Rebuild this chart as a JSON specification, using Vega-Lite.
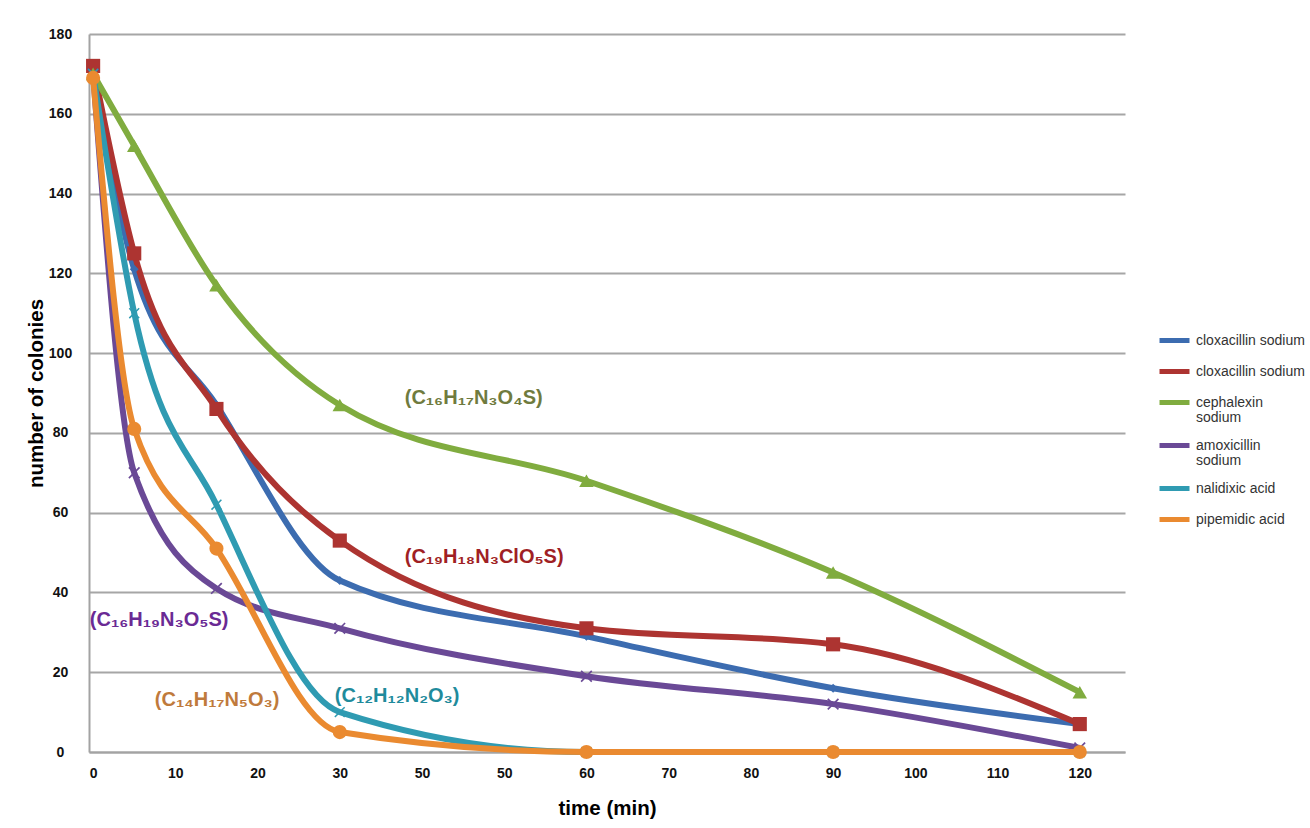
{
  "$schema": "https://vega.github.io/schema/vega-lite/v6.json",
  "width": 1036,
  "height": 718,
  "autosize": {"type": "none"},
  "padding": {"left": 89, "top": 34, "right": 185, "bottom": 76},
  "background": "white",
  "config": {"view": {"stroke": null}, "font": "Liberation Sans"},
  "datasets": {
    "series": [
      {"drug": "cloxacillin sodium (1)", "time": 0, "colonies": 170},
      {"drug": "cloxacillin sodium (1)", "time": 5, "colonies": 121},
      {"drug": "cloxacillin sodium (1)", "time": 15, "colonies": 87},
      {"drug": "cloxacillin sodium (1)", "time": 30, "colonies": 43},
      {"drug": "cloxacillin sodium (1)", "time": 60, "colonies": 29},
      {"drug": "cloxacillin sodium (1)", "time": 90, "colonies": 16},
      {"drug": "cloxacillin sodium (1)", "time": 120, "colonies": 7},
      {"drug": "cloxacillin sodium (2)", "time": 0, "colonies": 172},
      {"drug": "cloxacillin sodium (2)", "time": 5, "colonies": 125},
      {"drug": "cloxacillin sodium (2)", "time": 15, "colonies": 86},
      {"drug": "cloxacillin sodium (2)", "time": 30, "colonies": 53},
      {"drug": "cloxacillin sodium (2)", "time": 60, "colonies": 31},
      {"drug": "cloxacillin sodium (2)", "time": 90, "colonies": 27},
      {"drug": "cloxacillin sodium (2)", "time": 120, "colonies": 7},
      {"drug": "cephalexin sodium", "time": 0, "colonies": 170},
      {"drug": "cephalexin sodium", "time": 5, "colonies": 152},
      {"drug": "cephalexin sodium", "time": 15, "colonies": 117},
      {"drug": "cephalexin sodium", "time": 30, "colonies": 87},
      {"drug": "cephalexin sodium", "time": 60, "colonies": 68},
      {"drug": "cephalexin sodium", "time": 90, "colonies": 45},
      {"drug": "cephalexin sodium", "time": 120, "colonies": 15},
      {"drug": "amoxicillin sodium", "time": 0, "colonies": 170},
      {"drug": "amoxicillin sodium", "time": 5, "colonies": 70},
      {"drug": "amoxicillin sodium", "time": 15, "colonies": 41},
      {"drug": "amoxicillin sodium", "time": 30, "colonies": 31},
      {"drug": "amoxicillin sodium", "time": 60, "colonies": 19},
      {"drug": "amoxicillin sodium", "time": 90, "colonies": 12},
      {"drug": "amoxicillin sodium", "time": 120, "colonies": 1},
      {"drug": "nalidixic acid", "time": 0, "colonies": 170},
      {"drug": "nalidixic acid", "time": 5, "colonies": 110},
      {"drug": "nalidixic acid", "time": 15, "colonies": 62},
      {"drug": "nalidixic acid", "time": 30, "colonies": 10},
      {"drug": "nalidixic acid", "time": 60, "colonies": 0},
      {"drug": "nalidixic acid", "time": 90, "colonies": 0},
      {"drug": "nalidixic acid", "time": 120, "colonies": 0},
      {"drug": "pipemidic acid", "time": 0, "colonies": 169},
      {"drug": "pipemidic acid", "time": 5, "colonies": 81},
      {"drug": "pipemidic acid", "time": 15, "colonies": 51},
      {"drug": "pipemidic acid", "time": 30, "colonies": 5},
      {"drug": "pipemidic acid", "time": 60, "colonies": 0},
      {"drug": "pipemidic acid", "time": 90, "colonies": 0},
      {"drug": "pipemidic acid", "time": 120, "colonies": 0}
    ],
    "notes": [
      {"drug": "cephalexin sodium", "label": "(C₁₆H₁₇N₃O₄S)", "time": 37.9, "colonies": 88.7},
      {"drug": "cloxacillin sodium (2)", "label": "(C₁₉H₁₈N₃ClO₅S)", "time": 37.9, "colonies": 48.9},
      {"drug": "amoxicillin sodium", "label": "(C₁₆H₁₉N₃O₅S)", "time": -0.4, "colonies": 33.1},
      {"drug": "pipemidic acid", "label": "(C₁₄H₁₇N₅O₃)", "time": 7.5, "colonies": 13},
      {"drug": "nalidixic acid", "label": "(C₁₂H₁₂N₂O₃)", "time": 29.4, "colonies": 14}
    ]
  },
  "layer": [
    {
      "data": {"name": "series"},
      "mark": {"type": "line", "interpolate": "monotone", "strokeWidth": 6},
      "encoding": {
        "x": {
          "field": "time", "type": "quantitative",
          "scale": {"domain": [-0.5, 125.5], "nice": false, "zero": false},
          "axis": {
            "values": [0, 10, 20, 30, 40, 50, 60, 70, 80, 90, 100, 110, 120],
            "labelExpr": "datum.value == 40 ? '50' : datum.label",
            "grid": false, "ticks": false,
            "domainColor": "#a3a3a3", "domainWidth": 2,
            "labelFont": "Liberation Sans", "labelFontWeight": "bold", "labelFontSize": 14, "labelColor": "#111111",
            "labelPadding": 14,
            "title": "time (min)", "titleFont": "Liberation Sans", "titleFontSize": 20.5, "titleFontWeight": "bold", "titleColor": "#000000",
            "titlePadding": 18
          }
        },
        "y": {
          "field": "colonies", "type": "quantitative",
          "scale": {"domain": [0, 180], "nice": false},
          "axis": {
            "values": [0, 20, 40, 60, 80, 100, 120, 140, 160, 180],
            "grid": true, "gridColor": "#a6a6a6", "gridWidth": 2,
            "ticks": false,
            "domainColor": "#a3a3a3", "domainWidth": 2,
            "labelFont": "Liberation Sans", "labelFontWeight": "bold", "labelFontSize": 14, "labelColor": "#111111",
            "labelAlign": "center", "labelPadding": 29,
            "title": "number of colonies", "titleFont": "Liberation Sans", "titleFontSize": 20.5, "titleFontWeight": "bold", "titleColor": "#000000",
            "titlePadding": 2
          }
        },
        "color": {
          "field": "drug", "type": "nominal",
          "scale": {
            "domain": ["cloxacillin sodium (1)", "cloxacillin sodium (2)", "cephalexin sodium", "amoxicillin sodium", "nalidixic acid", "pipemidic acid"],
            "range": ["#3c6cb0", "#ad3431", "#80ac3f", "#6a4996", "#2f9bb2", "#ea8a30"]
          },
          "legend": {
            "title": null,
            "orient": "none", "legendX": 1068, "legendY": 289,
            "padding": 0,
            "symbolType": "stroke", "symbolStrokeWidth": 5, "symbolSize": 900,
            "labelFont": "Liberation Sans", "labelFontSize": 14, "labelColor": "#333333",
            "labelOffset": 4, "rowPadding": 3, "labelLimit": 300,
            "labelExpr": "indexof(datum.value, 'cloxacillin') == 0 ? 'cloxacillin sodium' : datum.value == 'cephalexin sodium' ? ['cephalexin', 'sodium'] : datum.value == 'amoxicillin sodium' ? ['amoxicillin', 'sodium'] : datum.value",
            "encode": {"labels": {"update": {"lineHeight": {"value": 15}}}}
          }
        }
      }
    },
    {
      "data": {"name": "series"},
      "transform": [{"filter": "datum.drug == 'cloxacillin sodium (1)'"}],
      "mark": {"type": "point", "shape": "diamond", "size": 80, "filled": true, "opacity": 1, "strokeWidth": 0},
      "encoding": {
        "x": {"field": "time", "type": "quantitative"},
        "y": {"field": "colonies", "type": "quantitative"},
        "color": {"field": "drug", "type": "nominal", "legend": null}
      }
    },
    {
      "data": {"name": "series"},
      "transform": [{"filter": "datum.drug == 'cloxacillin sodium (2)'"}],
      "mark": {"type": "point", "shape": "square", "size": 200, "filled": true, "opacity": 1, "strokeWidth": 0},
      "encoding": {
        "x": {"field": "time", "type": "quantitative"},
        "y": {"field": "colonies", "type": "quantitative"},
        "color": {"field": "drug", "type": "nominal", "legend": null}
      }
    },
    {
      "data": {"name": "series"},
      "transform": [{"filter": "datum.drug == 'cephalexin sodium'"}],
      "mark": {"type": "point", "shape": "triangle-up", "size": 210, "filled": true, "opacity": 1, "strokeWidth": 0},
      "encoding": {
        "x": {"field": "time", "type": "quantitative"},
        "y": {"field": "colonies", "type": "quantitative"},
        "color": {"field": "drug", "type": "nominal", "legend": null}
      }
    },
    {
      "data": {"name": "series"},
      "transform": [{"filter": "datum.drug == 'amoxicillin sodium'"}],
      "mark": {"type": "point", "shape": "M-1,-0.8L-0.8,-1L0,-0.2L0.8,-1L1,-0.8L0.2,0L1,0.8L0.8,1L0,0.2L-0.8,1L-1,0.8L-0.2,0Z", "size": 140, "filled": true, "opacity": 1, "strokeWidth": 0},
      "encoding": {
        "x": {"field": "time", "type": "quantitative"},
        "y": {"field": "colonies", "type": "quantitative"},
        "color": {"field": "drug", "type": "nominal", "legend": null}
      }
    },
    {
      "data": {"name": "series"},
      "transform": [{"filter": "datum.drug == 'nalidixic acid'"}],
      "mark": {"type": "point", "shape": "M-1,-0.8L-0.8,-1L0,-0.2L0.8,-1L1,-0.8L0.2,0L1,0.8L0.8,1L0,0.2L-0.8,1L-1,0.8L-0.2,0Z", "size": 120, "filled": true, "opacity": 1, "strokeWidth": 0},
      "encoding": {
        "x": {"field": "time", "type": "quantitative"},
        "y": {"field": "colonies", "type": "quantitative"},
        "color": {"field": "drug", "type": "nominal", "legend": null}
      }
    },
    {
      "data": {"name": "series"},
      "transform": [{"filter": "datum.drug == 'pipemidic acid'"}],
      "mark": {"type": "point", "shape": "circle", "size": 200, "filled": true, "opacity": 1, "strokeWidth": 0},
      "encoding": {
        "x": {"field": "time", "type": "quantitative"},
        "y": {"field": "colonies", "type": "quantitative"},
        "color": {"field": "drug", "type": "nominal", "legend": null}
      }
    },
    {
      "data": {"name": "notes"},
      "mark": {"type": "text", "align": "left", "baseline": "middle", "font": "Liberation Sans", "fontSize": 20, "fontWeight": "bold"},
      "encoding": {
        "x": {"field": "time", "type": "quantitative"},
        "y": {"field": "colonies", "type": "quantitative"},
        "text": {"field": "label"},
        "fill": {
          "field": "drug", "type": "nominal",
          "scale": {
            "domain": ["cephalexin sodium", "cloxacillin sodium (2)", "amoxicillin sodium", "pipemidic acid", "nalidixic acid"],
            "range": ["#6f7b3e", "#a01f24", "#6a2a94", "#bf7a3c", "#1f8b9c"]
          },
          "legend": null
        }
      }
    }
  ]
}
